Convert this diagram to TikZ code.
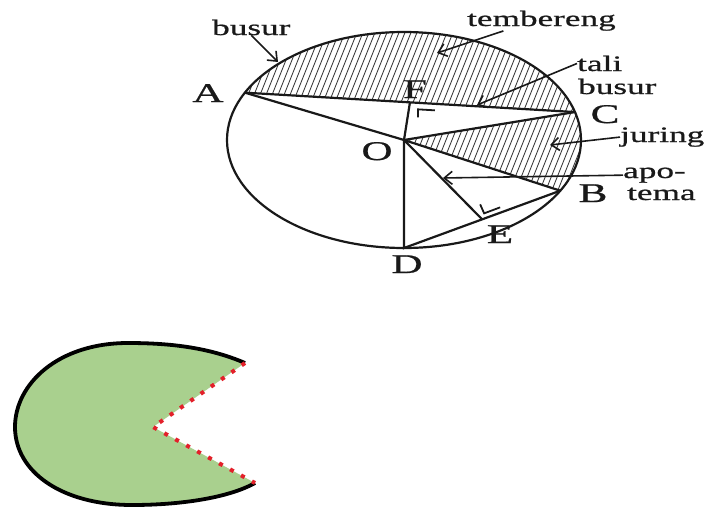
\documentclass[tikz,border=0pt]{standalone}
\usepackage{fontspec}
\setmainfont{Liberation Serif}
\newfontfamily\wideserif[FakeStretch=1.6, FakeBold=0.8]{Liberation Serif}
\usetikzlibrary{arrows.meta,calc}
\definecolor{pacgreen}{HTML}{A9D08E}
\definecolor{cutred}{HTML}{E3202A}
\newcommand{\pacrim}{.. controls (208,347) and (168,343) .. (128,343)
  .. controls (58,343) and (15,384) .. (15,427)
  .. controls (15,472) and (62,505) .. (132,505)
  .. controls (180,505) and (228,498) .. (Pl)}

\begin{document}
\begin{tikzpicture}[x=1pt, y=-1pt,
    seg/.style={line width=2.2pt, black!90},
    hatch/.style={line width=0.9pt, black!75},
    lbl/.style={font=\wideserif\fontsize{22}{22}\selectfont, text=black!90,
                inner sep=0pt, anchor=base west},
    pt/.style={font=\wideserif\fontsize{27}{27}\selectfont, text=black!90,
               inner sep=0pt, anchor=base},
    arr/.style={-{Straight Barb[length=8pt, width=13pt]}, line width=1.6pt, black!90},
    mk/.style={line width=1.8pt, black!90},
    rim/.style={line width=3.8pt, black},
    cut/.style={cutred, line width=4pt, dash pattern=on 4pt off 8.5pt},
]
  \useasboundingbox (0,0) rectangle (722,514);

  % circle points
  \coordinate (O) at (404,140);
  \coordinate (A) at ($(O)+(-154:177 and 108)$);
  \coordinate (C) at ($(O)+(-15:177 and 108)$);
  \coordinate (B) at ($(O)+(28:177 and 108)$);
  \coordinate (D) at ($(O)+(90:177 and 108)$);
  \coordinate (F) at ($(A)!0.5!(C)$);
  \coordinate (E) at ($(D)!0.5!(B)$);

  % tembereng and juring
  \begin{scope}
    \clip (A) arc[start angle=-154, end angle=-15, x radius=177, y radius=108] -- cycle;
    \foreach \x in {140,146,...,600} \draw[hatch] (\x,260) -- ++(100,-250);
  \end{scope}
  \begin{scope}
    \clip (O) -- (C) arc[start angle=-15, end angle=28, x radius=177, y radius=108] -- cycle;
    \foreach \x in {140,146,...,600} \draw[hatch] (\x,260) -- ++(100,-250);
  \end{scope}

  \draw[seg] (O) ellipse[x radius=177, y radius=108];
  \draw[seg] (A) -- (C);
  \draw[seg] (A) -- (O) -- (C);
  \draw[seg] (O) -- (B);
  \draw[seg] (O) -- (D) -- (B);
  \draw[seg] (O) -- (F);
  \draw[seg] (O) -- (E);
  \draw[mk] ($(F)+(8,15)$) -- ($(F)+(8,7)$) -- ($(F)+(25,8)$);
  \draw[mk] ($(E)+(-2,-15)$) -- ($(E)+(2,-6)$) -- ($(E)+(18,-12)$);

  \node[pt] (lA) at (208,102) {A};
  \node[pt] (lF) at (415,98)  {F};
  \node[pt] (lC) at (605,123) {C};
  \node[pt] (lO) at (377,160) {O};
  \node[pt] (lB) at (593,202) {B};
  \node[pt] (lE) at (500,243) {E};
  \node[pt] (lD) at (407,273) {D};

  \node[lbl] (lbusur) at (212,35)  {busur};
  \node[lbl] (lteb)   at (467,26)  {tembereng};
  \node[lbl] (ltali)  at (577,71)  {tali};
  \node[lbl] (lbusb)  at (578,94)  {busur};
  \node[lbl] (ljur)   at (620,142) {juring};
  \node[lbl] (lapo)   at (623,178) {apo-};
  \node[lbl] (ltema)  at (627,200) {tema};

  \coordinate (hbusur) at (278,62);
  \coordinate (hteb)   at (437,53);
  \coordinate (htali)  at (477,105);
  \coordinate (hjur)   at (550,145);
  \coordinate (hapo)   at (443,178);

  \draw[arr] (lbusur.south) -- (hbusur);
  \draw[arr] (lteb.195) -- (hteb);
  \draw[arr] (ltali.west) -- (htali);
  \draw[arr] (ljur.west) -- (hjur);
  \draw[arr] (lapo.west) -- (hapo);

  % pacman
  \coordinate (Pv) at (153,427);
  \coordinate (Pu) at (245,363);
  \coordinate (Pl) at (255,483);
  \fill[pacgreen] (Pu) \pacrim -- (Pv) -- cycle;
  \draw[rim] (Pu) \pacrim;
  \draw[cut] (Pu) -- (Pv) -- (Pl);
\end{tikzpicture}
\end{document}
